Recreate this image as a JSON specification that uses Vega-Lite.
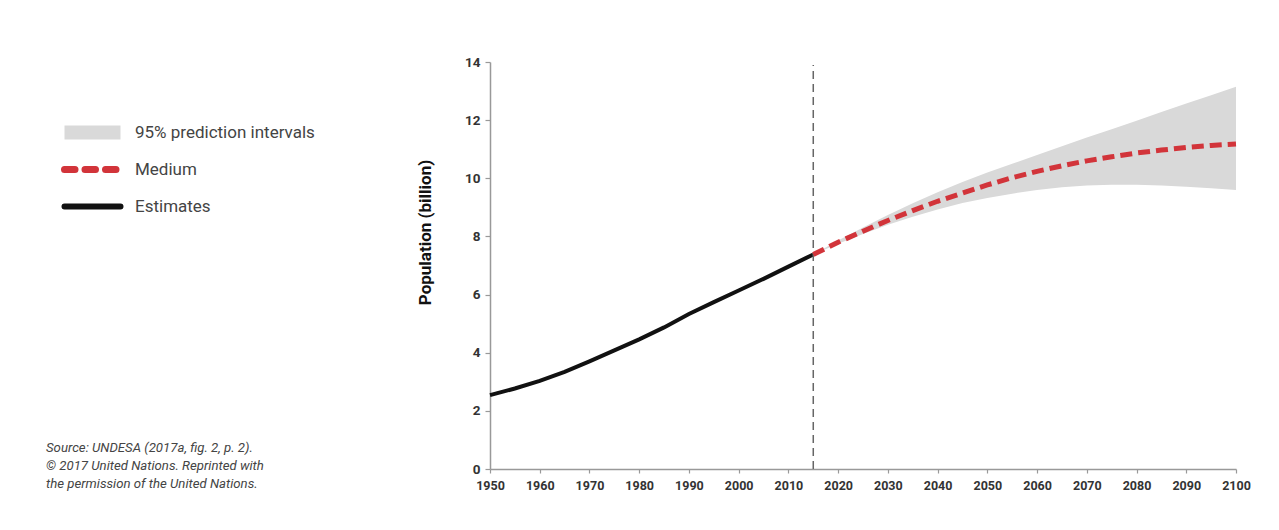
{
  "$schema": "https://vega.github.io/schema/vega-lite/v6.json",
  "width": 746,
  "height": 407,
  "autosize": {"type": "none"},
  "padding": {"left": 490, "top": 62, "right": 43, "bottom": 61},
  "background": "white",
  "config": {
    "view": {"stroke": null},
    "font": "Roboto",
    "axis": {
      "domainColor": "#999999",
      "domainWidth": 1.5,
      "tickColor": "#999999",
      "tickWidth": 1.2,
      "tickSize": 5,
      "grid": false,
      "labelFont": "Roboto",
      "labelFontWeight": "bold",
      "labelColor": "#333333",
      "titleFont": "Roboto"
    }
  },
  "title": {
    "text": ["Source: UNDESA (2017a, fig. 2, p. 2).", "© 2017 United Nations. Reprinted with", "the permission of the United Nations."],
    "orient": "bottom",
    "anchor": "start",
    "frame": "group",
    "dx": -444,
    "dy": -54,
    "font": "Roboto",
    "fontSize": 13.2,
    "fontStyle": "italic",
    "fontWeight": "normal",
    "color": "#444444",
    "lineHeight": 18.3
  },
  "datasets": {
    "pop": [
      {"year": 1950, "series": "Estimates", "value": 2.54},
      {"year": 1955, "series": "Estimates", "value": 2.77},
      {"year": 1960, "series": "Estimates", "value": 3.03},
      {"year": 1965, "series": "Estimates", "value": 3.34},
      {"year": 1970, "series": "Estimates", "value": 3.70},
      {"year": 1975, "series": "Estimates", "value": 4.08},
      {"year": 1980, "series": "Estimates", "value": 4.46},
      {"year": 1985, "series": "Estimates", "value": 4.87},
      {"year": 1990, "series": "Estimates", "value": 5.33},
      {"year": 1995, "series": "Estimates", "value": 5.74},
      {"year": 2000, "series": "Estimates", "value": 6.14},
      {"year": 2005, "series": "Estimates", "value": 6.54},
      {"year": 2010, "series": "Estimates", "value": 6.96},
      {"year": 2015, "series": "Estimates", "value": 7.38},
      {"year": 2015, "series": "Medium", "value": 7.38},
      {"year": 2020, "series": "Medium", "value": 7.80},
      {"year": 2025, "series": "Medium", "value": 8.18},
      {"year": 2030, "series": "Medium", "value": 8.55},
      {"year": 2035, "series": "Medium", "value": 8.89},
      {"year": 2040, "series": "Medium", "value": 9.21},
      {"year": 2045, "series": "Medium", "value": 9.49},
      {"year": 2050, "series": "Medium", "value": 9.77},
      {"year": 2055, "series": "Medium", "value": 10.02},
      {"year": 2060, "series": "Medium", "value": 10.24},
      {"year": 2065, "series": "Medium", "value": 10.43},
      {"year": 2070, "series": "Medium", "value": 10.60},
      {"year": 2075, "series": "Medium", "value": 10.74},
      {"year": 2080, "series": "Medium", "value": 10.87},
      {"year": 2085, "series": "Medium", "value": 10.97},
      {"year": 2090, "series": "Medium", "value": 11.06},
      {"year": 2095, "series": "Medium", "value": 11.13},
      {"year": 2100, "series": "Medium", "value": 11.18}
    ],
    "band": [
      {"year": 2015, "series": "95% prediction intervals", "lower": 7.38, "upper": 7.38},
      {"year": 2020, "series": "95% prediction intervals", "lower": 7.75, "upper": 7.86},
      {"year": 2025, "series": "95% prediction intervals", "lower": 8.08, "upper": 8.31},
      {"year": 2030, "series": "95% prediction intervals", "lower": 8.40, "upper": 8.74},
      {"year": 2035, "series": "95% prediction intervals", "lower": 8.68, "upper": 9.14},
      {"year": 2040, "series": "95% prediction intervals", "lower": 8.93, "upper": 9.52},
      {"year": 2045, "series": "95% prediction intervals", "lower": 9.15, "upper": 9.87},
      {"year": 2050, "series": "95% prediction intervals", "lower": 9.32, "upper": 10.20},
      {"year": 2055, "series": "95% prediction intervals", "lower": 9.47, "upper": 10.50},
      {"year": 2060, "series": "95% prediction intervals", "lower": 9.60, "upper": 10.80},
      {"year": 2065, "series": "95% prediction intervals", "lower": 9.69, "upper": 11.10},
      {"year": 2070, "series": "95% prediction intervals", "lower": 9.75, "upper": 11.40},
      {"year": 2075, "series": "95% prediction intervals", "lower": 9.78, "upper": 11.69},
      {"year": 2080, "series": "95% prediction intervals", "lower": 9.78, "upper": 11.98},
      {"year": 2085, "series": "95% prediction intervals", "lower": 9.75, "upper": 12.28},
      {"year": 2090, "series": "95% prediction intervals", "lower": 9.71, "upper": 12.57},
      {"year": 2095, "series": "95% prediction intervals", "lower": 9.66, "upper": 12.86},
      {"year": 2100, "series": "95% prediction intervals", "lower": 9.60, "upper": 13.15}
    ]
  },
  "layer": [
    {
      "data": {"name": "band"},
      "mark": {"type": "area", "opacity": 1},
      "encoding": {
        "x": {
          "field": "year", "type": "quantitative",
          "scale": {"domain": [1950, 2100], "nice": false, "zero": false},
          "axis": {
            "title": null,
            "values": [1950,1955,1960,1965,1970,1975,1980,1985,1990,1995,2000,2005,2010,2015,2020,2025,2030,2035,2040,2045,2050,2055,2060,2065,2070,2075,2080,2085,2090,2095,2100],
            "format": "d",
            "labelExpr": "datum.value % 10 == 0 ? datum.label : ''",
            "labelFontSize": 12.5,
            "labelFlush": false,
            "labelOverlap": false,
            "labelPadding": 6,
            "tickSize": 4
          }
        },
        "y": {
          "field": "lower", "type": "quantitative",
          "scale": {"domain": [0, 14], "nice": false},
          "axis": {
            "title": "Population (billion)",
            "titleFontSize": 17,
            "titleFontWeight": "bold",
            "titleColor": "#111111",
            "titlePadding": 30,
            "titleY": 170,
            "values": [0,1,2,3,4,5,6,7,8,9,10,11,12,13,14],
            "labelExpr": "datum.value % 2 == 0 ? datum.label : ''",
            "labelFontSize": 13.5,
            "labelFlush": false,
            "labelOverlap": false,
            "labelPadding": 5
          }
        },
        "y2": {"field": "upper"},
        "color": {
          "field": "series", "type": "nominal",
          "scale": {
            "domain": ["95% prediction intervals", "Medium", "Estimates"],
            "range": ["#d9d9d9", "#d2343a", "#111111"]
          },
          "legend": {
            "title": null,
            "orient": "none",
            "legendX": -406,
            "legendY": 62,
            "padding": 0,
            "gridAlign": "all",
            "symbolType": "stroke",
            "symbolSize": 3136,
            "symbolStrokeWidth": 1.5,
            "rowPadding": -30,
            "labelFont": "Roboto",
            "labelFontSize": 17,
            "labelColor": "#444444",
            "labelOffset": 34,
            "labelLimit": 400,
            "encode": {
              "symbols": {
                "update": {
                  "strokeWidth": {"signal": "datum.value === '95% prediction intervals' ? 14 : datum.value === 'Medium' ? 7 : 6"},
                  "strokeDash": {"signal": "datum.value === 'Medium' ? [10.5, 10] : [1, 0]"},
                  "strokeCap": {"signal": "datum.value === '95% prediction intervals' ? 'butt' : 'round'"},
                  "stroke": {"signal": "datum.value === '95% prediction intervals' ? '#d9d9d9' : datum.value === 'Medium' ? '#d2343a' : '#111111'"},
                  "opacity": {"value": 1}
                }
              }
            }
          }
        }
      }
    },
    {
      "data": {"name": "pop"},
      "transform": [{"filter": "datum.series === 'Estimates'"}],
      "mark": {"type": "line", "strokeWidth": 4, "strokeCap": "butt"},
      "encoding": {
        "x": {"field": "year", "type": "quantitative"},
        "y": {"field": "value", "type": "quantitative"},
        "color": {
          "field": "series", "type": "nominal",
          "legend": {
            "title": null,
            "orient": "none",
            "legendX": -406,
            "legendY": 62,
            "padding": 0,
            "gridAlign": "all",
            "symbolType": "stroke",
            "symbolSize": 3136,
            "symbolStrokeWidth": 1.5,
            "rowPadding": -30,
            "labelFont": "Roboto",
            "labelFontSize": 17,
            "labelColor": "#444444",
            "labelOffset": 34,
            "labelLimit": 400,
            "encode": {
              "symbols": {
                "update": {
                  "strokeWidth": {"signal": "datum.value === '95% prediction intervals' ? 14 : datum.value === 'Medium' ? 7 : 6"},
                  "strokeDash": {"signal": "datum.value === 'Medium' ? [10.5, 10] : [1, 0]"},
                  "strokeCap": {"signal": "datum.value === '95% prediction intervals' ? 'butt' : 'round'"},
                  "stroke": {"signal": "datum.value === '95% prediction intervals' ? '#d9d9d9' : datum.value === 'Medium' ? '#d2343a' : '#111111'"},
                  "opacity": {"value": 1}
                }
              }
            }
          }
        }
      }
    },
    {
      "data": {"values": [{"at": 2015}]},
      "mark": {"type": "rule", "color": "#666666", "strokeWidth": 1.5, "strokeDash": [8, 5]},
      "encoding": {
        "x": {"field": "at", "type": "quantitative"},
        "y": {"datum": 0, "type": "quantitative"},
        "y2": {"datum": 13.9}
      }
    },
    {
      "data": {"name": "pop"},
      "transform": [{"filter": "datum.series === 'Medium'"}],
      "mark": {"type": "line", "strokeWidth": 5, "strokeDash": [12, 6], "strokeCap": "butt"},
      "encoding": {
        "x": {"field": "year", "type": "quantitative"},
        "y": {"field": "value", "type": "quantitative"},
        "color": {
          "field": "series", "type": "nominal",
          "legend": {
            "title": null,
            "orient": "none",
            "legendX": -406,
            "legendY": 62,
            "padding": 0,
            "gridAlign": "all",
            "symbolType": "stroke",
            "symbolSize": 3136,
            "symbolStrokeWidth": 1.5,
            "rowPadding": -30,
            "labelFont": "Roboto",
            "labelFontSize": 17,
            "labelColor": "#444444",
            "labelOffset": 34,
            "labelLimit": 400,
            "encode": {
              "symbols": {
                "update": {
                  "strokeWidth": {"signal": "datum.value === '95% prediction intervals' ? 14 : datum.value === 'Medium' ? 7 : 6"},
                  "strokeDash": {"signal": "datum.value === 'Medium' ? [10.5, 10] : [1, 0]"},
                  "strokeCap": {"signal": "datum.value === '95% prediction intervals' ? 'butt' : 'round'"},
                  "stroke": {"signal": "datum.value === '95% prediction intervals' ? '#d9d9d9' : datum.value === 'Medium' ? '#d2343a' : '#111111'"},
                  "opacity": {"value": 1}
                }
              }
            }
          }
        }
      }
    }
  ]
}
